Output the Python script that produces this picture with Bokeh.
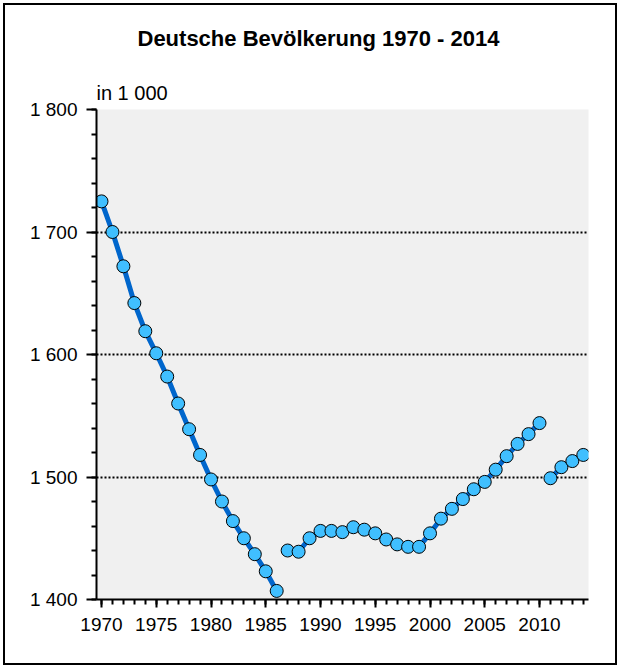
from bokeh.plotting import figure
from bokeh.models import FixedTicker, Title
from bokeh.embed import file_html
from bokeh.resources import INLINE

# ---- data (thousands) ----
years = list(range(1970, 2015))
population = [1725, 1700, 1672, 1642, 1619, 1601, 1582, 1560, 1539, 1518, 1498, 1480, 1464, 1450, 1437, 1423, 1407,
              1440, 1439, 1450, 1456, 1456, 1455, 1459, 1457, 1454, 1449, 1445, 1443, 1443, 1454, 1466, 1474, 1482,
              1490, 1496, 1506, 1517, 1527, 1535, 1544,
              1499, 1508, 1513, 1518]
segment_starts = [1970, 1987, 2011]   # series breaks (no connecting line)

y_major = [1400, 1500, 1600, 1700, 1800]
y_labels = ["1 400", "1 500", "1 600", "1 700", "1 800"]
y_minor = list(range(1400, 1801, 20))
x_major = [1970, 1975, 1980, 1985, 1990, 1995, 2000, 2005, 2010]
x_minor = years

title_text = "Deutsche Bevölkerung 1970 - 2014"
unit_text = "in 1 000"

FONT = "Liberation Sans"

# ---- figure ----
p = figure(width=620, height=668, output_backend="svg", toolbar_location=None, title=None,
           x_range=(1969.543, 2014.475), y_range=(1400, 1800),
           min_border_left=96, min_border_right=32, min_border_top=108, min_border_bottom=69)
p.styles = {"outline": "2px solid black", "outline-offset": "-5px", "background-color": "white"}
p.background_fill_color = "#f0f0f0"
p.border_fill_color = None
p.outline_line_color = None

# grid
p.xgrid.visible = False
p.ygrid.ticker = FixedTicker(ticks=y_major[1:])
p.ygrid.grid_line_color = "black"
p.ygrid.grid_line_width = 2
p.ygrid.grid_line_dash = "2 2"

# axes
for ax in (p.xaxis[0], p.yaxis[0]):
    ax.axis_line_width = 2
    ax.major_tick_line_width = 2
    ax.minor_tick_line_width = 2
    ax.major_tick_in = 0
    ax.minor_tick_in = 0
    ax.major_label_text_font = FONT
    ax.major_label_text_font_size = "19px"
    ax.major_label_text_color = "black"

p.yaxis.ticker = FixedTicker(ticks=y_major, minor_ticks=y_minor)
p.yaxis.major_label_overrides = {v: s for v, s in zip(y_major, y_labels)}
p.yaxis.major_tick_out = 10
p.yaxis.minor_tick_out = 5
p.yaxis.major_label_standoff = 9

p.xaxis.ticker = FixedTicker(ticks=x_major, minor_ticks=x_minor)
p.xaxis.major_label_overrides = {v: str(v) for v in x_major}
p.xaxis.major_tick_out = 8
p.xaxis.minor_tick_out = 5
p.xaxis.major_label_standoff = 10

# line segments
xs, ys = [], []
bounds = segment_starts + [years[-1] + 1]
for a, b in zip(bounds[:-1], bounds[1:]):
    seg = [(x, y) for x, y in zip(years, population) if a <= x < b]
    xs.append([s[0] for s in seg])
    ys.append([s[1] for s in seg])
p.multi_line(xs, ys, line_color="#0066CC", line_width=5)
p.scatter(years, population, size=13, fill_color="#40BFFF", line_color="black", line_width=1)

# unit label (closest to frame) and main title
p.add_layout(Title(text=unit_text, align="left", text_font=FONT, text_font_size="20px",
                   text_font_style="normal", text_color="black", standoff=11), "above")
p.add_layout(Title(text=title_text, align="left", offset=41, text_font=FONT, text_font_size="22px",
                   text_font_style="bold", text_color="black", standoff=47), "above")

open("out.html", "w").write(file_html(p, INLINE))
